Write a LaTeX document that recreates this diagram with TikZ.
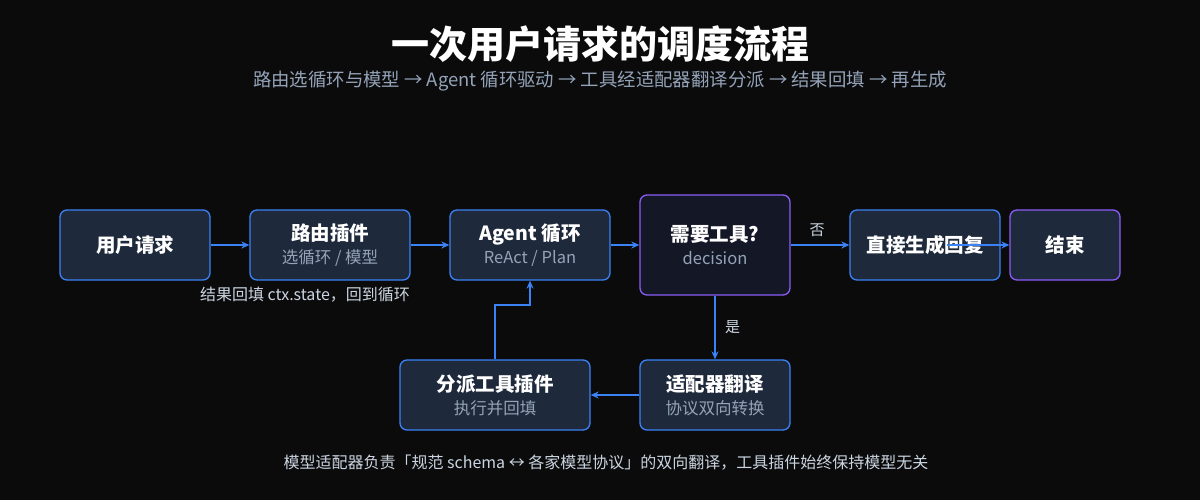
\documentclass[tikz,border=0pt]{standalone}
\usepackage{fontspec}
\setmainfont{Noto Sans CJK SC}
\usepackage{tikz}
\usetikzlibrary{arrows.meta, positioning, calc}
\definecolor{bg}{HTML}{0B0B0C}
\definecolor{boxfill}{HTML}{1E293B}
\definecolor{decfill}{HTML}{141826}
\definecolor{blueline}{HTML}{3B82F6}
\definecolor{purpline}{HTML}{8B5CF6}
\definecolor{subgray}{HTML}{94A3B8}
\definecolor{labgray}{HTML}{CBD5E1}
\tikzset{
  box/.style={draw=blueline, line width=1.3pt, fill=boxfill, rounded corners=7pt,
    minimum width=150pt, minimum height=70pt, align=center, text=white,
    font=\fontsize{19.5}{24}\selectfont\bfseries},
  decbox/.style={box, draw=purpline, fill=decfill, minimum height=100pt},
  flow/.style={-{Stealth[length=8pt,width=7pt]}, draw=blueline, line width=1.5pt},
  lab/.style={text=labgray, font=\fontsize{16}{18}\selectfont}
}
\newcommand{\sub}[1]{\\[-1pt]{\fontsize{16.5}{20}\selectfont\mdseries\color{subgray}#1}}
\begin{document}
\begin{tikzpicture}[x=1pt,y=-1pt]
\fill[bg] (0,0) rectangle (1200,500);
\useasboundingbox (0,0) rectangle (1200,500);

% Title
\node[text=white, font=\fontsize{38}{44}\selectfont\bfseries] (title) at (600,44) {一次用户请求的调度流程};
\node[text=subgray, font=\fontsize{18.4}{22}\selectfont] (subtitle) at (600,81)
  {路由选循环与模型 → Agent 循环驱动 → 工具经适配器翻译分派 → 结果回填 → 再生成};

% Top row
\node[box] (user) at (135,245) {用户请求};
\node[box, minimum width=160pt] (router) at (330,245) {路由插件\sub{选循环 / 模型}};
\node[box, minimum width=160pt] (agent) at (530,245) {Agent 循环\sub{ReAct / Plan}};
\node[decbox] (decide) at (715,245) {需要工具?\sub{decision}};
\node[box] (reply) at (925,245) {直接生成回复};
\node[box, draw=purpline, minimum width=110pt] (done) at (1065,245) {结束};

% Bottom row
\node[box] (adapter) at (715,395) {适配器翻译\sub{协议双向转换}};
\node[box, minimum width=190pt] (dispatch) at (495,395) {分派工具插件\sub{执行并回填}};

% Connectors
\draw[flow] (user) -- (router);
\draw[flow] (router) -- (agent);
\draw[flow] (agent) -- (decide);
\draw[flow] (decide.east |- reply) -- node[lab, font=\fontsize{15}{17}\selectfont, above=4pt, pos=0.45] {否} (reply);
\draw[flow] ($(reply.center)+(22pt,0)$) -- (done);
\draw[flow] (decide) -- node[lab, font=\fontsize{15}{17}\selectfont, right=6pt] {是} (adapter);
\draw[flow] (adapter) -- (dispatch);
\coordinate (bend) at (495,305);
\draw[flow] (dispatch.north) -- (bend) -| (agent.south);
\node[lab] (backlabel) at (305,295) {结果回填 ctx.state，回到循环};

% Footer
\node[lab] (footer) at (606,463)
  {模型适配器负责「规范 schema ↔ 各家模型协议」的双向翻译，工具插件始终保持模型无关};
\end{tikzpicture}
\end{document}
